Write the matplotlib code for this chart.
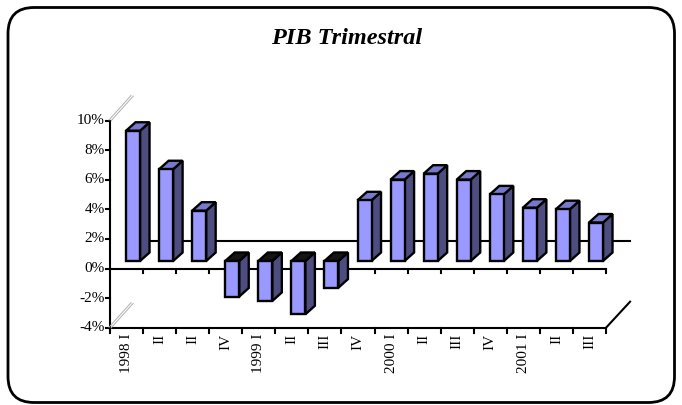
import matplotlib
matplotlib.use("Agg")
import matplotlib.pyplot as plt
from matplotlib.patches import Polygon, FancyBboxPatch

# ---- data ----
categories = ["1998 I", "II", "II", "IV", "1999 I", "II", "III", "IV",
              "2000 I", "II", "III", "IV", "2001 I", "II", "III"]
values = [8.8, 6.2, 3.4, -2.4, -2.7, -3.6, -1.8, 4.1,
          5.5, 5.9, 5.5, 4.5, 3.6, 3.5, 2.6]
yticks = [-4, -2, 0, 2, 4, 6, 8, 10]
title = "PIB Trimestral"

W, H = 682, 405
fig = plt.figure(figsize=(W / 100, H / 100), dpi=100)

# pixel-space overlay for frame and title
axp = fig.add_axes([0, 0, 1, 1])
axp.set_xlim(0, W)
axp.set_ylim(H, 0)
axp.axis("off")
frame = FancyBboxPatch((8, 7.5), W - 15.5, H - 10,
                       boxstyle="round,pad=0,rounding_size=26",
                       fc="white", ec="black", lw=2.0, zorder=0)
axp.add_patch(frame)
axp.text(347, 39, title, ha="center", va="center", fontsize=17.5,
         family="Liberation Serif", fontweight="bold", fontstyle="italic")

# data axes: map category units / percent onto pixel layout
X0, PXC = 110.0, 33.07      # pixel x of category 0 boundary, px per category
Y0, PXV = 268.5, 14.8       # pixel y of 0%, px per percent
ax = fig.add_axes([0, 0, 1, 1], zorder=2)
ax.patch.set_alpha(0)
ax.set_xlim(-X0 / PXC, (W - X0) / PXC)
ax.set_ylim((Y0 - H) / PXV, Y0 / PXV)
ax.axis("off")

def px(dx):
    return dx / PXC

def pv(dy):
    return dy / PXV

n = len(categories)
lw = 1.5
# back floor edge
back_v = pv(Y0 - 241)
ax.plot([px(27), n + px(24)], [back_v, back_v], color="black", lw=lw, zorder=1)
# front floor edge with ticks
ax.plot([0, n], [0, 0], color="black", lw=lw, zorder=1)
for i in range(1, n + 1):
    ax.plot([i, i], [0, -pv(4.5)], color="black", lw=lw, zorder=1)
# bottom category axis
bot = yticks[0]
ax.plot([0, n], [bot, bot], color="black", lw=lw, zorder=1)
for i in range(0, n + 1):
    ax.plot([i, i], [bot, bot - pv(5)], color="black", lw=lw, zorder=1)
ax.plot([n, n + px(24)], [bot, bot + pv(26)], color="black", lw=lw, zorder=1)
# value axis
ax.plot([0, 0], [yticks[0], yticks[-1]], color="black", lw=lw, zorder=1)
for t in yticks:
    ax.plot([0, -px(4)], [t, t], color="black", lw=lw, zorder=1)
    ax.text(-px(5), t, f"{t}%", ha="right", va="center", fontsize=11,
            family="Liberation Serif")
# axis break marks (double thin grey lines)
for base in (yticks[-1], bot):
    for off in (0, 2.2):
        ax.plot([px(-1 + off), px(21 + off)],
                [base + pv(0.5 - off * 0.3), base + pv(25 - off * 0.3)],
                color="#b0b0b0", lw=0.7, zorder=1)

# bars (pseudo 3D)
fdx, fdy = px(6.5), pv(7.5)     # front face depth shift
ddx, ddy = px(9.5), pv(8.5)     # bar depth
half = px(7)
front_c, top_c, side_c, negtop_c = "#9999FF", "#7878CC", "#4D4D80", "#141414"
blw = 1.7
for i, v in enumerate(values):
    xc = i + 0.5 + fdx
    x0, x1 = xc - half, xc + half
    b = fdy
    t = b + v
    lo, hi = min(b, t), max(b, t)
    pk = dict(ec="black", lw=blw, joinstyle="miter", zorder=3)
    ax.add_patch(Polygon([(x1, lo), (x1 + ddx, lo + ddy), (x1 + ddx, hi + ddy), (x1, hi)],
                         fc=side_c, **pk))
    ax.add_patch(Polygon([(x0, hi), (x1, hi), (x1 + ddx, hi + ddy), (x0 + ddx, hi + ddy)],
                         fc=top_c if v >= 0 else negtop_c, **pk))
    ax.add_patch(Polygon([(x0, lo), (x1, lo), (x1, hi), (x0, hi)], fc=front_c, **pk))

# category labels
for i, lab in enumerate(categories):
    ax.text(i + 0.5, bot - pv(6), lab, rotation=90, ha="center", va="top",
            fontsize=11, family="Liberation Serif")

fig.savefig("out.png", dpi=100)
